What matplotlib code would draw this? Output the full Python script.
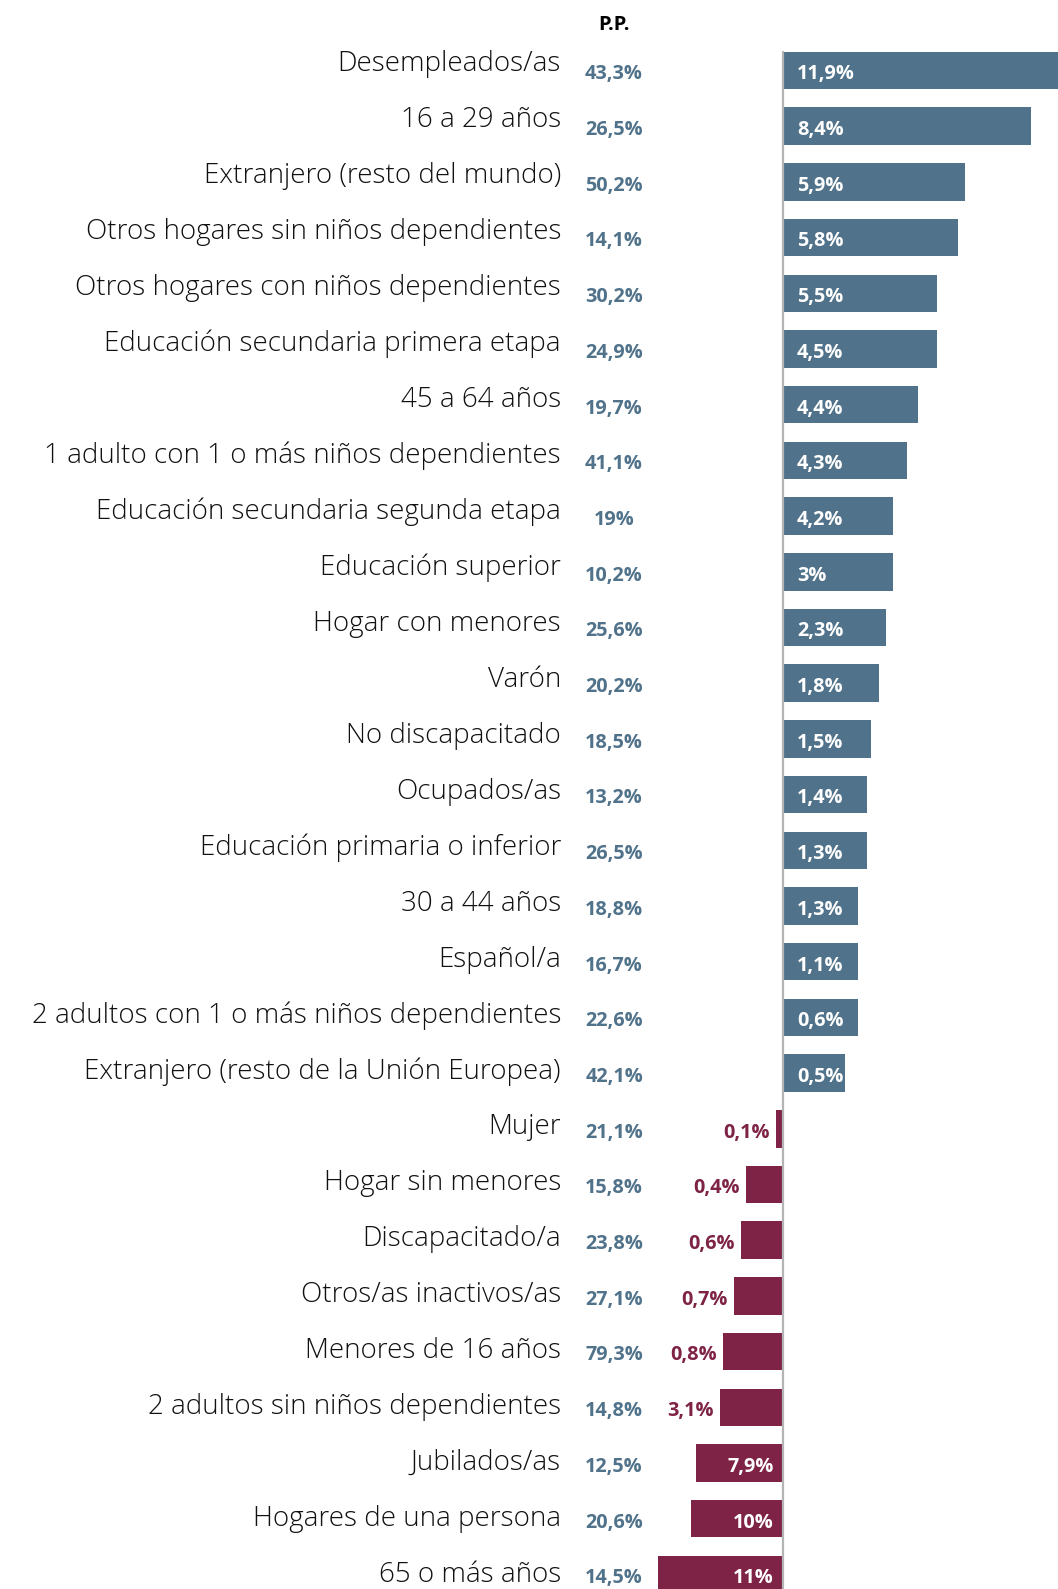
import matplotlib
matplotlib.use("Agg")
import matplotlib.pyplot as plt
from matplotlib import transforms

categories = [
    "Desempleados/as", "16 a 29 años", "Extranjero (resto del mundo)",
    "Otros hogares sin niños dependientes", "Otros hogares con niños dependientes",
    "Educación secundaria primera etapa", "45 a 64 años",
    "1 adulto con 1 o más niños dependientes", "Educación secundaria segunda etapa",
    "Educación superior", "Hogar con menores", "Varón", "No discapacitado",
    "Ocupados/as", "Educación primaria o inferior", "30 a 44 años", "Español/a",
    "2 adultos con 1 o más niños dependientes", "Extranjero (resto de la Unión Europea)",
    "Mujer", "Hogar sin menores", "Discapacitado/a", "Otros/as inactivos/as",
    "Menores de 16 años", "2 adultos sin niños dependientes", "Jubilados/as",
    "Hogares de una persona", "65 o más años",
]
pp_labels = [
    "43,3%", "26,5%", "50,2%", "14,1%", "30,2%", "24,9%", "19,7%", "41,1%", "19%",
    "10,2%", "25,6%", "20,2%", "18,5%", "13,2%", "26,5%", "18,8%", "16,7%", "22,6%",
    "42,1%", "21,1%", "15,8%", "23,8%", "27,1%", "79,3%", "14,8%", "12,5%", "20,6%",
    "14,5%",
]
value_labels = [
    "11,9%", "8,4%", "5,9%", "5,8%", "5,5%", "4,5%", "4,4%", "4,3%", "4,2%", "3%",
    "2,3%", "1,8%", "1,5%", "1,4%", "1,3%", "1,3%", "1,1%", "0,6%", "0,5%",
    "0,1%", "0,4%", "0,6%", "0,7%", "0,8%", "3,1%", "7,9%", "10%", "11%",
]
# bar lengths as drawn in the picture (not proportional to the printed labels)
bar_len = [
    11.9, 10.73, 7.88, 7.58, 6.67, 6.67, 5.84, 5.37, 4.76, 4.76, 4.46, 4.16, 3.81,
    3.64, 3.64, 3.25, 3.25, 3.25, 2.68,
    -0.30, -1.60, -1.82, -2.12, -2.60, -2.73, -3.77, -3.98, -5.41,
]

BLUE = "#50728a"
RED = "#7e2246"
TXT = "#111111"
light = dict(family=["Open Sans", "DejaVu Sans"], weight="light")
bold = dict(family=["Open Sans", "DejaVu Sans"], weight="bold")

W, H = 1058, 1589
fig = plt.figure(figsize=(W / 100, H / 100), dpi=100)
ax = fig.add_axes([0, 0, 1, 1])
ax.axis("off")

px = 23.1      # pixels per unit
zero_x = 783   # pixel position of the zero line
pitch = 55.7
first = 70.5
ax.set_xlim(-zero_x / px, (W - zero_x) / px)
ax.set_ylim((H - first) / pitch, -first / pitch)

n = len(categories)
rows = list(range(n))
colors = [BLUE if v > 0 else RED for v in bar_len]
ax.barh(rows, bar_len, height=0.673, color=colors, zorder=2)
ax.plot([0, 0], [-0.35, n + 1], color="#b4b4b4", lw=1.6, zorder=3,
        solid_capstyle="butt")

tr = transforms.blended_transform_factory(ax.transAxes, ax.transData)
dy = 0.07  # value labels sit slightly below bar centre
for i in rows:
    ax.text(561 / W, i * 1.0045 - 0.11, categories[i], transform=tr,
            ha="right", va="center", fontsize=20, color=TXT, **light)
    ax.text(614 / W, i + dy, pp_labels[i], transform=tr, ha="center",
            va="center", fontsize=14.3, color=BLUE, **bold)
    v = bar_len[i]
    if v > 0:
        ax.annotate(value_labels[i], (0, i + dy), xytext=(10, 0),
                    textcoords="offset points", ha="left", va="center",
                    fontsize=14.3, color="white", **bold)
    elif v < -3.5:
        ax.annotate(value_labels[i], (0, i + dy), xytext=(-6.5, 0),
                    textcoords="offset points", ha="right", va="center",
                    fontsize=14.3, color="white", **bold)
    else:
        ax.annotate(value_labels[i], (v, i + dy), xytext=(-4.3, 0),
                    textcoords="offset points", ha="right", va="center",
                    fontsize=14.3, color=RED, **bold)

ax.text(614 / W, -0.81, "P.P.", transform=tr, ha="center", va="center",
        fontsize=14.5, color="black", **bold)

fig.savefig("out.png", dpi=100)
